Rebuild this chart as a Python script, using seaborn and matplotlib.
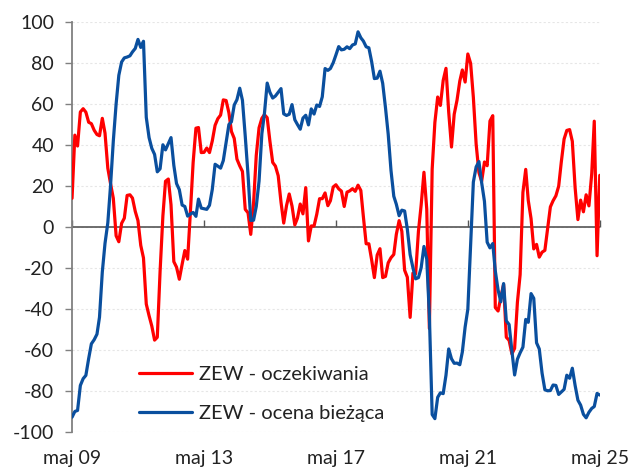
import matplotlib.pyplot as plt
import numpy as np
import pandas as pd
import seaborn as sns

# Niemcy: indeks ZEW, dane miesięczne maj 2009 - maj 2025
START = "2009-05-01"

zew_oczekiwania = [
    14.0, 44.8, 39.5, 56.1, 57.7, 56.0, 51.1, 50.4,
    47.2, 45.1, 44.5, 53.0, 45.8, 28.7, 21.2, 14.0, -4.3, -7.2, 1.8, 4.3,
    15.4, 15.7, 14.1, 7.6, 3.1, -9.0, -15.1, -37.6, -43.3, -48.3, -55.2, -53.8,
    -21.6, 5.4, 22.3, 23.4, 10.8, -16.9, -19.6, -25.5, -18.2, -11.5, -15.7, 6.9,
    31.5, 48.2, 48.5, 36.3, 36.4, 38.5, 36.3, 42.0, 49.6, 52.8, 54.6, 62.0,
    61.7, 55.7, 46.6, 43.2, 33.1, 29.8, 27.1, 8.6, 6.9, -3.6, 11.5, 34.9,
    48.4, 53.0, 54.8, 53.3, 41.9, 31.5, 29.7, 25.0, 12.1, 1.9, 10.4, 16.1,
    10.2, 1.0, 4.3, 11.2, 6.4, 19.2, -6.8, 0.5, 0.5, 6.2, 13.8, 13.8,
    16.6, 10.4, 12.8, 19.5, 20.6, 18.6, 17.5, 10.0, 17.0, 17.6, 18.7, 17.4,
    20.4, 17.8, 5.1, -8.2, -8.2, -16.1, -24.7, -13.7, -10.6, -24.7, -24.1, -17.5,
    -15.0, -13.4, -3.6, 3.1, -2.1, -21.1, -24.5, -44.1, -22.5, -22.8, -2.1, 10.7,
    26.7, 8.7, -49.5, 28.2, 51.0, 63.4, 59.3, 71.5, 77.4, 56.1, 39.0, 55.0,
    61.8, 71.2, 76.6, 70.7, 84.4, 79.8, 63.3, 40.4, 26.5, 22.3, 31.7, 29.9,
    51.7, 54.3, -39.3, -41.0, -34.3, -28.0, -53.8, -55.3, -61.9, -59.2, -36.7, -23.3,
    16.9, 28.1, 13.0, 4.1, -10.7, -8.5, -14.7, -12.3, -11.4, -1.1, 9.8, 12.8,
    15.2, 19.9, 31.7, 42.9, 47.1, 47.5, 41.8, 19.2, 3.6, 13.1, 7.4, 15.7,
    10.3, 26.0, 51.6, -14.0, 25.2,
]

zew_ocena_biezaca = [
    -92.8, -90.0, -89.5, -77.3, -74.0, -72.4, -64.2, -57.0,
    -55.0, -52.3, -44.0, -22.0, -8.0, 2.0, 20.0, 42.0, 60.0, 74.0, 80.5, 82.5,
    82.9, 83.5, 85.4, 87.1, 91.5, 87.6, 90.6, 53.5, 43.6, 38.4, 35.4, 26.9,
    28.4, 40.1, 37.6, 40.7, 43.6, 30.1, 21.2, 18.2, 10.7, 10.0, 5.3, 6.3,
    7.1, 5.2, 13.6, 9.2, 8.9, 8.6, 10.6, 18.3, 30.6, 29.7, 28.7, 32.4,
    41.2, 50.0, 51.3, 59.5, 62.1, 67.7, 61.8, 44.3, 25.4, 3.2, 3.3, 10.0,
    22.4, 45.5, 55.1, 70.2, 65.7, 62.9, 63.9, 65.7, 67.5, 55.2, 54.4, 55.0,
    59.7, 52.3, 50.0, 47.7, 53.1, 54.5, 49.8, 57.6, 55.1, 59.5, 58.8, 63.5,
    77.3, 76.4, 77.3, 80.1, 83.9, 88.0, 86.4, 86.7, 87.9, 87.0, 88.8, 89.3,
    95.2, 92.3, 90.7, 87.9, 87.4, 80.6, 72.4, 72.6, 76.0, 70.1, 58.2, 45.3,
    27.6, 15.0, 11.1, 5.5, 8.2, 7.8, -1.1, -13.5, -19.9, -25.3, -24.7, -19.9,
    -9.5, -15.7, -43.1, -91.5, -93.5, -83.1, -80.9, -81.3, -72.3, -59.5, -64.3, -66.5,
    -66.4, -67.2, -61.0, -48.8, -40.1, -9.1, 21.9, 29.3, 31.9, 21.6, 12.5, -7.4,
    -10.2, -8.1, -21.4, -30.8, -36.5, -27.6, -45.8, -47.6, -60.5, -72.2, -64.5, -61.4,
    -58.6, -45.1, -46.5, -32.5, -34.8, -56.5, -59.5, -71.3, -79.4, -79.9, -79.8, -77.1,
    -77.3, -81.7, -80.5, -79.2, -72.3, -73.8, -68.9, -77.3, -84.5, -86.9, -91.4, -93.1,
    -90.4, -88.5, -87.6, -81.2, -82.0,
]

SERIES_NAMES = ["ZEW - oczekiwania", "ZEW - ocena bieżąca"]
TICK_LABELS = ["maj 09", "maj 13", "maj 17", "maj 21", "maj 25"]
Y_TICKS = list(range(-100, 101, 20))

# --- dane w formacie długim dla seaborna ---
dates = pd.date_range(START, periods=len(zew_oczekiwania), freq="MS")
df = pd.concat([
    pd.DataFrame({"data": dates, "wartosc": zew_oczekiwania, "seria": SERIES_NAMES[0]}),
    pd.DataFrame({"data": dates, "wartosc": zew_ocena_biezaca, "seria": SERIES_NAMES[1]}),
])

sns.set_theme(style="white")
plt.rcParams["font.family"] = ["Lato", "DejaVu Sans"]
plt.rcParams["axes.unicode_minus"] = False

fig, ax = plt.subplots(figsize=(6.32, 4.68), dpi=100)
fig.subplots_adjust(left=0.114, right=0.949, top=0.953, bottom=0.077)

ax.yaxis.grid(True, color="#e6e6e6", linestyle=(0, (2, 2)), linewidth=0.8)
ax.set_axisbelow(True)
ax.axhline(0, color="#555555", linewidth=1.2, zorder=1)

sns.lineplot(data=df, x="data", y="wartosc", hue="seria",
             palette={SERIES_NAMES[0]: "#ff0000", SERIES_NAMES[1]: "#0a4f9e"},
             linewidth=2.3, ax=ax, zorder=3)

ax.set_xlim(dates[0], dates[-1])
ax.set_ylim(-100, 100)
ax.set_yticks(Y_TICKS)
ax.set_xlabel("")
ax.set_ylabel("")

# znaczniki lat na osi zero, etykiety pod wykresem
tick_idx = np.linspace(0, len(dates) - 1, len(TICK_LABELS)).round().astype(int)
tick_pos = dates[tick_idx]
ax.set_xticks(tick_pos)
ax.set_xticklabels(TICK_LABELS)
ax.tick_params(axis="x", length=0, pad=13, labelsize=14, colors="#222222")
ax.tick_params(axis="y", length=5, width=1, color="#808080", pad=8,
               labelsize=14, labelcolor="#222222", left=True)

sec = ax.secondary_xaxis(0.5)
sec.set_xticks(tick_pos)
sec.set_xticklabels([])
sec.tick_params(axis="x", length=5, width=1, color="#555555", direction="out")
sec.spines["bottom"].set_visible(False)
sec.spines["top"].set_visible(False)

for side in ["top", "right", "bottom"]:
    ax.spines[side].set_visible(False)
ax.spines["left"].set_color("#808080")
ax.spines["left"].set_linewidth(1.3)

ax.legend(title=None, frameon=False, loc="lower left",
          bbox_to_anchor=(0.108, 0.0), fontsize=14.5,
          handlelength=2.65, handletextpad=0.3, labelspacing=1.1,
          borderpad=0.0, labelcolor="#222222")

fig.savefig("out.png", dpi=100, facecolor="white")
